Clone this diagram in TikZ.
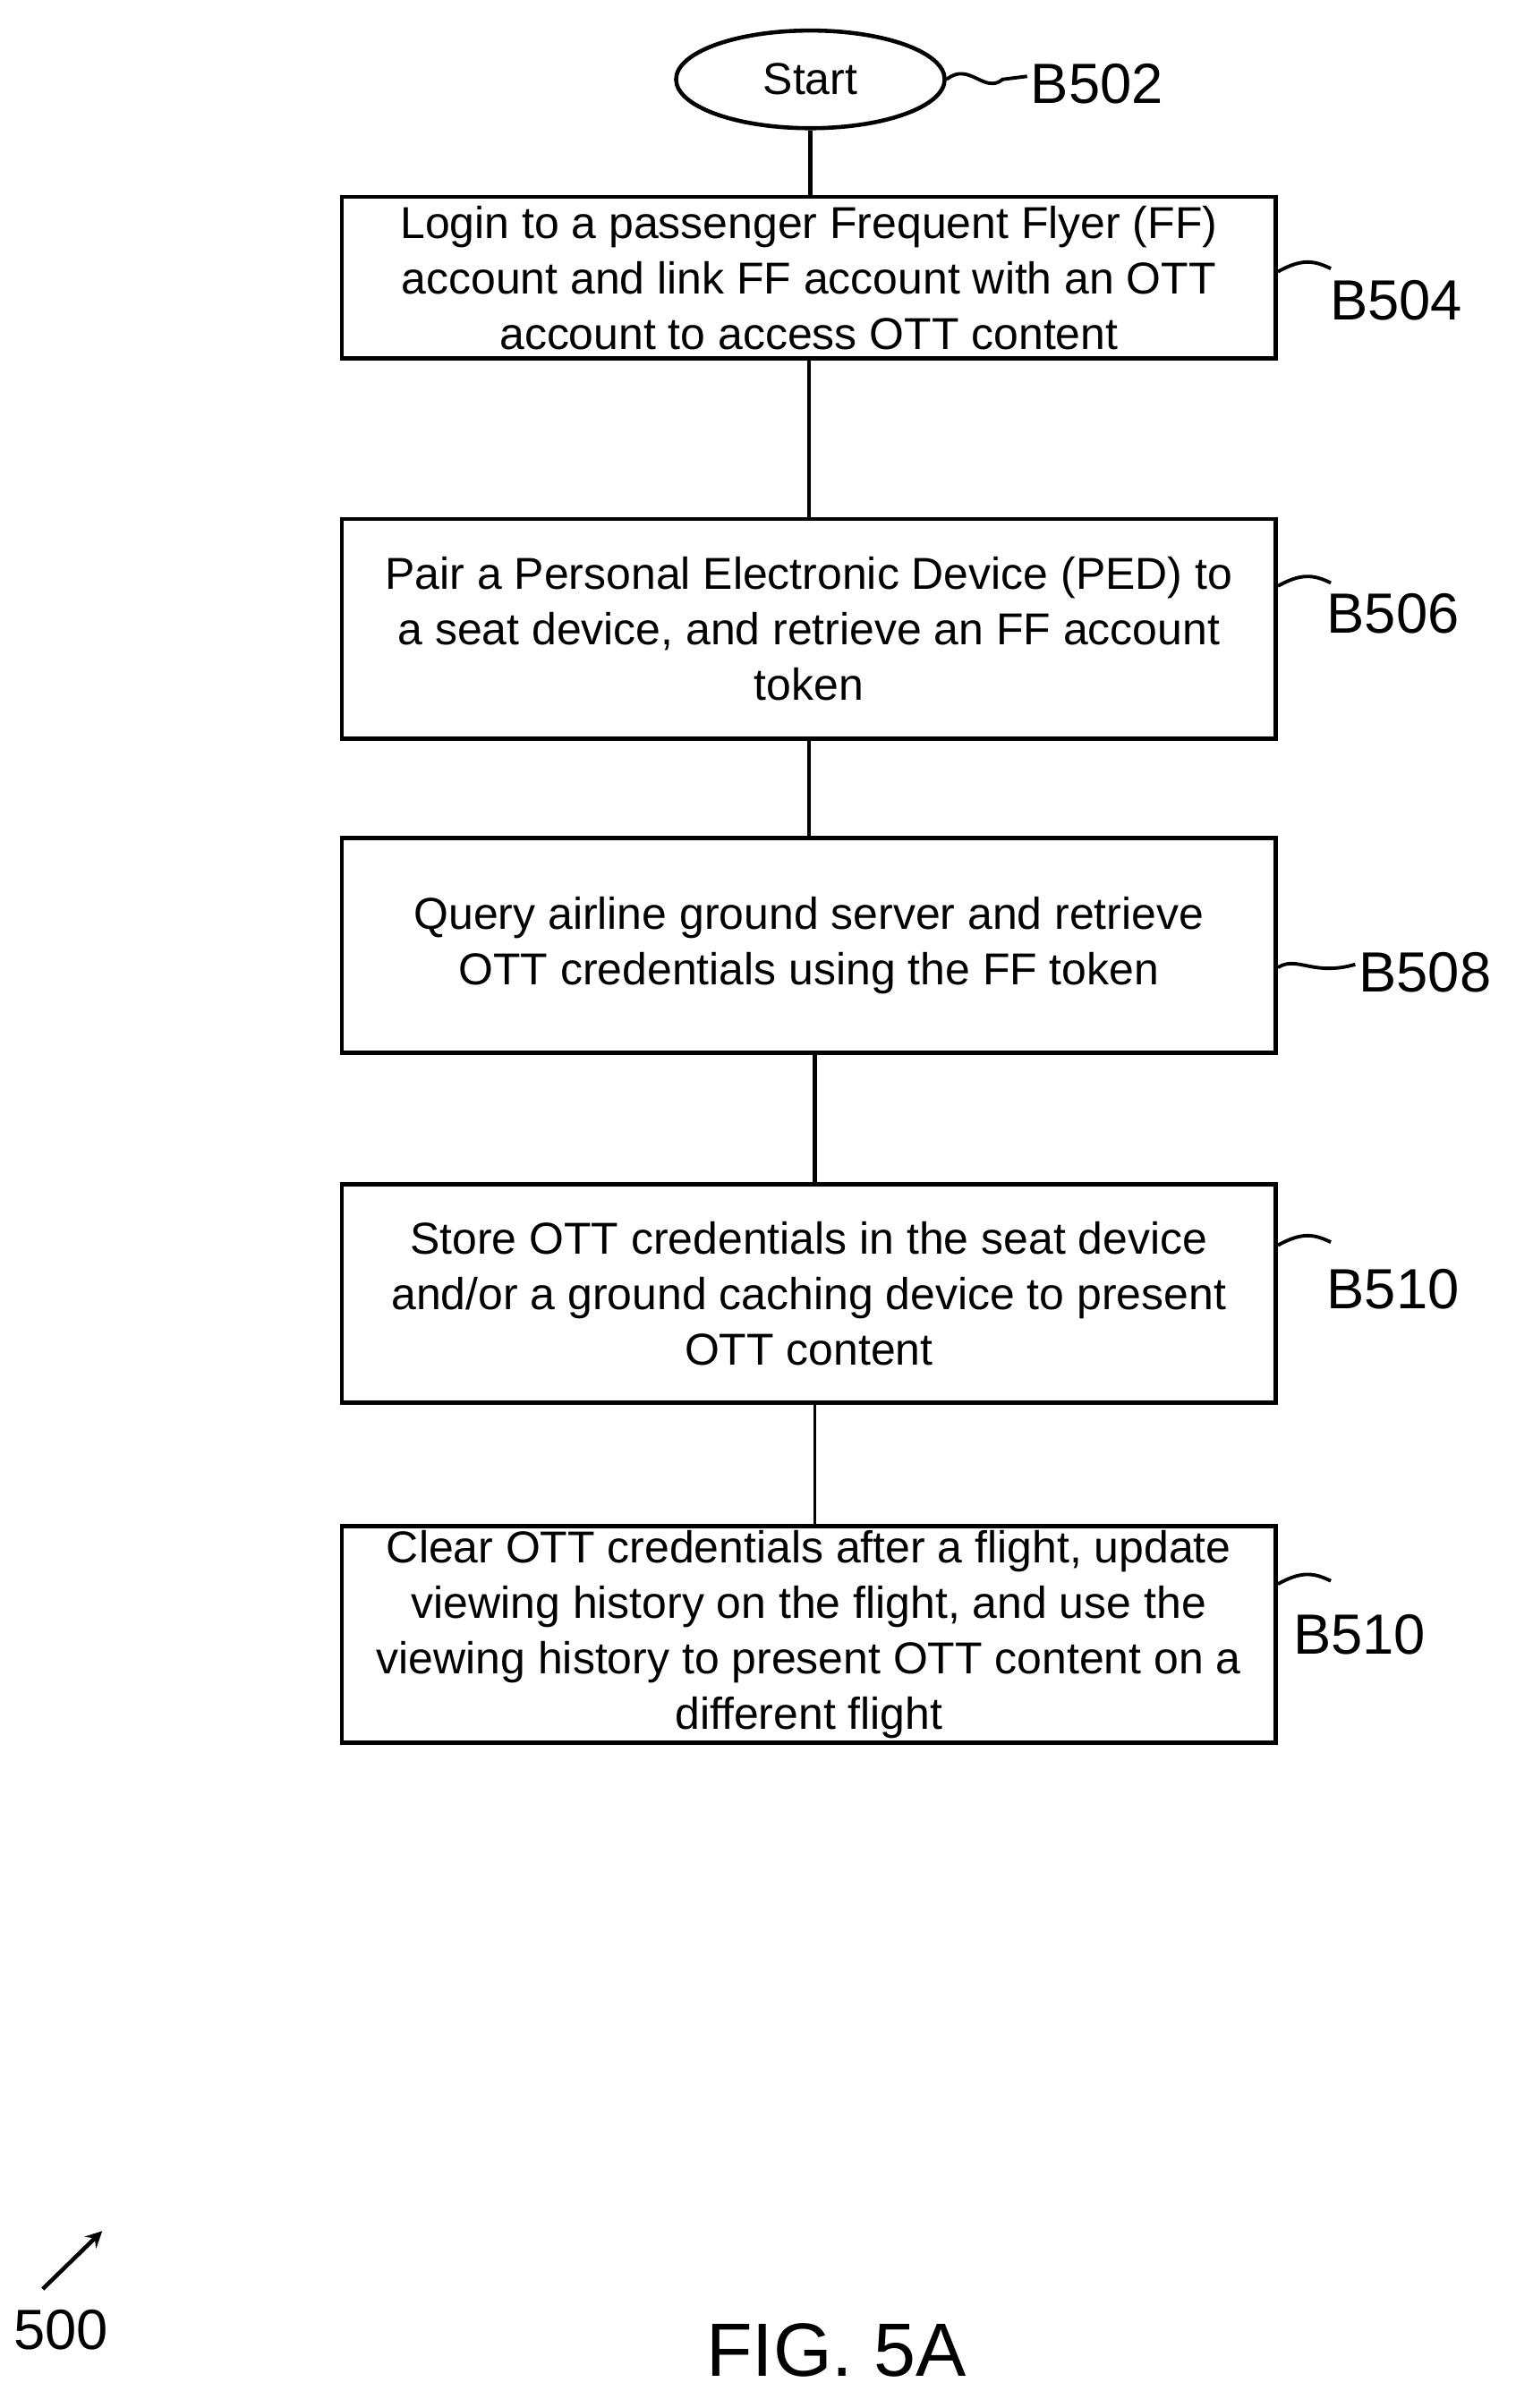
\documentclass[tikz,border=0pt]{standalone}
\usepackage{fontspec}
\usetikzlibrary{shapes.geometric}
\setmainfont{Liberation Sans}
\begin{document}
\begin{tikzpicture}[x=0.01705cm,y=-0.01705cm,
  box/.style={draw,line width=1.3pt,minimum width=612*0.01705cm,align=center,inner sep=0pt,font=\fontsize{14.2}{17.6}\selectfont},
  lab/.style={font=\fontsize{18}{20}\selectfont,anchor=west,inner sep=1pt},
  conn/.style={line width=1.3pt},
  sq/.style={line width=1.1pt}]
\useasboundingbox (0,0) rectangle (993,1578);
\node[draw,ellipse,line width=1.3pt,minimum width=176*0.01705cm,minimum height=64*0.01705cm,inner sep=0pt,font=\fontsize{14.2}{17}\selectfont] (s) at (531,52) {Start};
\node[box,minimum height=106*0.01705cm] (b1) at (530,182) {Login to a passenger Frequent Flyer (FF)\\account and link FF account with an OTT\\account to access OTT content};
\node[box,minimum height=144*0.01705cm] (b2) at (530,412) {Pair a Personal Electronic Device (PED) to\\a seat device, and retrieve an FF account\\token};
\node[box,minimum height=141*0.01705cm] (b3) at (530,619.5) {Query airline ground server and retrieve\\OTT credentials using the FF token};
\node[box,minimum height=143*0.01705cm] (b4) at (530,847.5) {Store OTT credentials in the seat device\\and/or a ground caching device to present\\OTT content};
\node[box,minimum height=142*0.01705cm] (b5) at (530,1071) {Clear OTT credentials after a flight, update\\viewing history on the flight, and use the\\viewing history to present OTT content on a\\different flight};
\draw[conn] (s.south) -- (s.south|-b1.north);
\draw[conn] (b1.south) -- (b2.north);
\draw[conn] (b2.south) -- (b3.north);
\draw[conn] (534,690) coordinate (c3) -- (534,776) coordinate (c4);
\draw[line width=0.8pt] (534,919) coordinate (c5) -- (534,1000) coordinate (c6);
\node[lab] (l502) at (673,55) {B502};
\node[lab] (l504) at (869,197) {B504};
\node[lab] (l506) at (867,402) {B506};
\node[lab] (l508) at (888,637) {B508};
\node[lab] (l510a) at (867,845) {B510};
\node[lab] (l510b) at (845,1071) {B510};
\draw[sq] (s.east) .. controls (635,40) and (645,62) .. (657,52) -- (l502.west|-0,50);
\draw[sq] (b1.east|-0,178) .. controls (852,170) and (860,170) .. (872,176);
\draw[sq] (b2.east|-0,384) .. controls (852,376) and (860,376) .. (872,382);
\draw[sq] (b3.east|-0,634) .. controls (850,626) and (860,640) .. (l508.west|-0,632);
\draw[sq] (b4.east|-0,816) .. controls (852,808) and (860,808) .. (872,814);
\draw[sq] (b5.east|-0,1038) .. controls (852,1030) and (860,1030) .. (872,1036);
\node[font=\fontsize{18}{20}\selectfont] (n500) at (40,1527) {500};
\coordinate (a500) at (28,1500);
\draw[line width=1.3pt,-stealth] (a500) -- (67,1462);
\node[font=\fontsize{24}{26}\selectfont] (fig) at (548,1540) {FIG. 5A};
\end{tikzpicture}
\end{document}
